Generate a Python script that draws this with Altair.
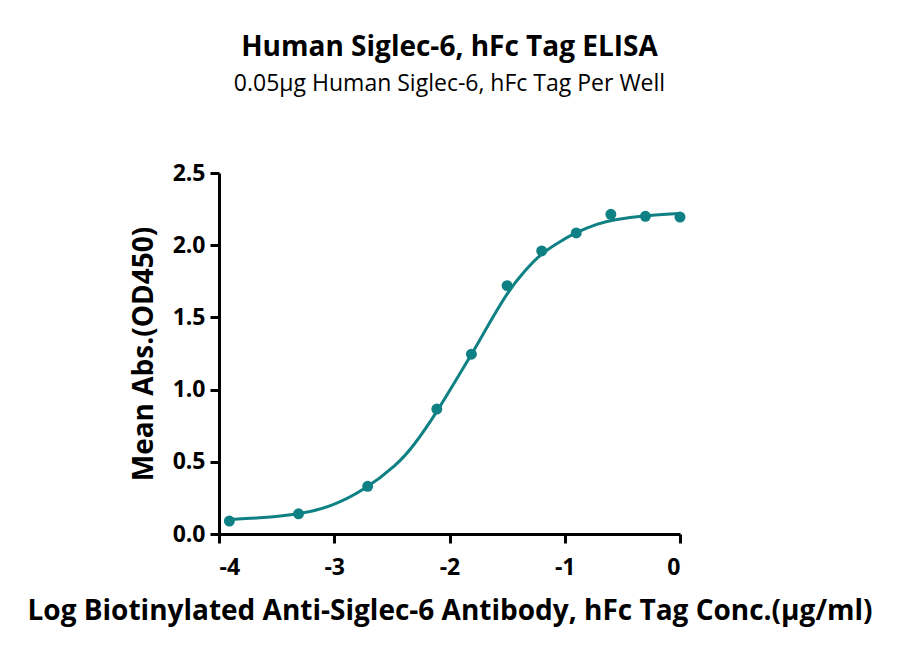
import pandas as pd
import altair as alt

# measured points (log conc vs mean OD450)
log_conc = [-3.91, -3.31, -2.71, -2.11, -1.81, -1.50, -1.20, -0.90, -0.60, -0.30, 0.0]
mean_abs = [0.09, 0.14, 0.33, 0.865, 1.245, 1.72, 1.96, 2.085, 2.214, 2.20, 2.195]

# fitted curve
curve_x = [-3.92, -3.61, -3.31, -3.035, -2.745, -2.453, -2.31, -2.105, -1.96, -1.80,
           -1.669, -1.494, -1.35, -1.204, -1.03, -0.90, -0.71, -0.59, -0.29, 0.0]
curve_y = [0.10, 0.112, 0.135, 0.186, 0.30, 0.48, 0.61, 0.85, 1.045, 1.255,
           1.44, 1.68, 1.82, 1.945, 2.03, 2.09, 2.15, 2.175, 2.207, 2.22]

teal = "#0f8083"
font = "Open Sans"

points_df = pd.DataFrame({"x": log_conc, "y": mean_abs})
curve_df = pd.DataFrame({"x": curve_x, "y": curve_y})

x_enc = alt.X("x:Q",
              scale=alt.Scale(domain=[-4, 0], nice=False, zero=False),
              axis=alt.Axis(values=[-4, -3, -2, -1, 0],
                            labelExpr="'' + datum.value",
                            labelPadding=13,
                            title="Log Biotinylated Anti-Siglec-6 Antibody, hFc Tag Conc.(μg/ml)",
                            titlePadding=18))
y_enc = alt.Y("y:Q",
              scale=alt.Scale(domain=[0, 2.5], nice=False),
              axis=alt.Axis(values=[0, 0.5, 1.0, 1.5, 2.0, 2.5], format=".1f",
                            labelPadding=5,
                            title="Mean Abs.(OD450)", titlePadding=14))

curve = alt.Chart(curve_df).mark_line(color=teal, strokeWidth=3, interpolate="basis").encode(
    x=x_enc, y=y_enc)
dots = alt.Chart(points_df).mark_circle(color=teal, size=120, opacity=1).encode(
    x="x:Q", y="y:Q")

chart = (curve + dots).properties(
    width=461, height=361,
    autosize=alt.AutoSizeParams(type="none"),
    padding={"left": 211, "top": 165, "right": 212, "bottom": 112},
    title=alt.Title("Human Siglec-6, hFc Tag ELISA",
                    subtitle="0.05μg Human Siglec-6, hFc Tag Per Well",
                    fontSize=28, font=font, fontWeight="bold", color="black",
                    subtitleFont=font, subtitleFontSize=23, subtitleColor="black",
                    subtitlePadding=11, offset=66, anchor="middle"),
).configure_view(stroke=None).configure_axis(
    grid=False, domainColor="black", domainWidth=3, tickColor="black", tickWidth=3,
    tickSize=9, labelFont=font, labelFontSize=23, labelFontWeight="bold",
    labelColor="black", titleFont=font, titleFontSize=28,
    titleFontWeight="bold", titleColor="black"
)

chart.save("out.html", embed_options={"renderer": "svg", "actions": False})
